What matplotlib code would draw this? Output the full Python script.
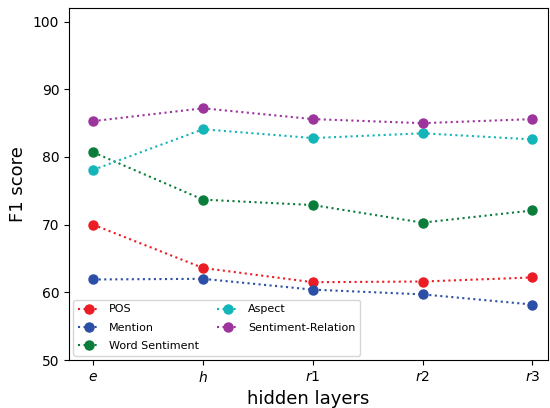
import matplotlib
matplotlib.use("Agg")
import matplotlib.pyplot as plt

layers = ["$e$", "$h$", "$r1$", "$r2$", "$r3$"]
pos = [70.0, 63.6, 61.5, 61.6, 62.2]
mention = [61.9, 62.0, 60.4, 59.7, 58.2]
word_sent = [80.7, 73.7, 72.9, 70.3, 72.1]
aspect = [78.1, 84.1, 82.8, 83.5, 82.6]
sent_rel = [85.3, 87.2, 85.6, 85.0, 85.6]

series = [
    ("POS", pos, "#ec1c24"),
    ("Mention", mention, "#2b4fa6"),
    ("Word Sentiment", word_sent, "#0a7d3a"),
    ("Aspect", aspect, "#13b5b8"),
    ("Sentiment-Relation", sent_rel, "#9c349c"),
]

fig = plt.figure(figsize=(5.5, 4.08), dpi=100)
ax = fig.add_axes([0.1255, 0.1176, 0.8705, 0.8625])
x = list(range(len(layers)))
for name, vals, c in series:
    ax.plot(x, vals, linestyle=":", marker="o", color=c, markersize=6.5, linewidth=1.5, label=name)

ax.set_xticks(x)
ax.set_xticklabels(layers, fontsize=10)
ax.set_ylim(50, 102)
ax.set_yticks([50, 60, 70, 80, 90, 100])
ax.tick_params(labelsize=10)
ax.set_xlim(-0.22, 4.14)
ax.set_xlabel("hidden layers", fontsize=13)
ax.set_ylabel("F1 score", fontsize=13)
ax.legend(ncol=2, loc="lower left", fontsize=8, handlelength=2, columnspacing=1.6,
          labelspacing=0.75, borderaxespad=0.4)
fig.savefig("out.png", dpi=100)
